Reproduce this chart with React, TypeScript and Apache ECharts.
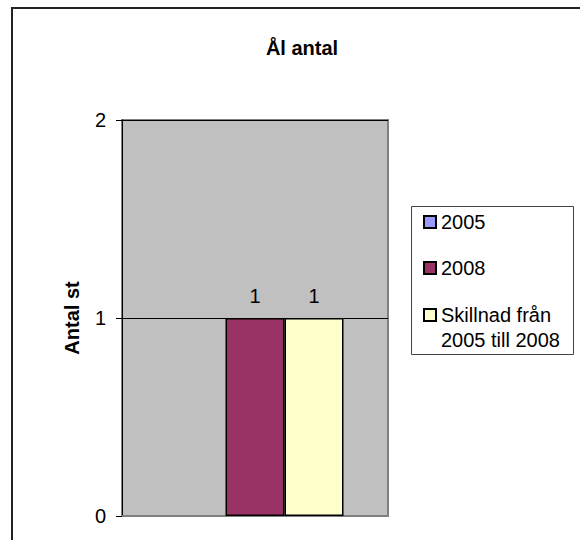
import React, { useEffect, useRef } from "react";
import * as echarts from "echarts";

const categories = [""];
const seriesNames = ["2005", "2008", "Skillnad från\n2005 till 2008"];
const values2005: (number | null)[] = [null];
const values2008: (number | null)[] = [1];
const valuesDiff: (number | null)[] = [1];
const seriesColors = ["#9999FF", "#993366", "#FFFFCC"];
const yMin = 0;
const yMax = 2;
const yInterval = 1;
const titleText = "Ål antal";
const yAxisName = "Antal st";

const FONT = "'Liberation Sans', Arial, sans-serif";

export default function App() {
  const ref = useRef<HTMLDivElement>(null);
  useEffect(() => {
    if (!ref.current) return;
    const chart = echarts.init(ref.current, undefined, { renderer: "svg" });
    const allValues = [values2005, values2008, valuesDiff];
    const legendBase = {
      orient: "vertical",
      left: 423,
      padding: 0,
      itemWidth: 12,
      itemHeight: 12,
      itemGap: 21,
      icon: "rect",
      textStyle: { fontFamily: FONT, fontSize: 20, color: "#000", lineHeight: 25 },
    };
    chart.setOption({
      animation: false,
      backgroundColor: "#ffffff",
      textStyle: { fontFamily: FONT },
      title: {
        text: titleText,
        left: 302,
        top: 38,
        textAlign: "center",
        padding: 0,
        textStyle: { fontFamily: FONT, fontSize: 20, fontWeight: "bold", color: "#000" },
      },
      graphic: [
        {
          type: "polyline",
          shape: { points: [[12, 560], [12, 8], [600, 8]] },
          style: { fill: "none", stroke: "#222", lineWidth: 2 },
          silent: true,
          z: -10,
        },
        {
          type: "rect",
          shape: { x: 411.5, y: 206.5, width: 162, height: 148 },
          style: { fill: "#fff", stroke: "#444", lineWidth: 1 },
          silent: true,
          z: -5,
        },
      ],
      legend: [
        { ...legendBase, top: 209.5, data: [seriesNames[0], seriesNames[1]] },
        {
          ...legendBase,
          top: 277.5,
          data: [seriesNames[2]],
          formatter: (name: string) => "\n" + name,
        },
      ],
      grid: {
        left: 122,
        top: 120,
        right: 192,
        bottom: 24,
        show: true,
        backgroundColor: "#C0C0C0",
        borderColor: "#808080",
        borderWidth: 2,
        containLabel: false,
      },
      xAxis: {
        type: "category",
        data: categories,
        axisLine: { show: true, lineStyle: { color: "#808080", width: 2 } },
        axisTick: { show: false },
        axisLabel: { show: false },
      },
      yAxis: {
        type: "value",
        min: yMin,
        max: yMax,
        interval: yInterval,
        name: yAxisName,
        nameLocation: "middle",
        nameGap: 40,
        nameTextStyle: { fontFamily: FONT, fontSize: 20, fontWeight: "bold", color: "#000" },
        axisLine: { show: true, lineStyle: { color: "#000", width: 1 } },
        axisTick: { show: true, length: 6, lineStyle: { color: "#000" } },
        axisLabel: { fontFamily: FONT, fontSize: 20, color: "#000", margin: 16 },
        splitLine: { show: true, lineStyle: { color: "#000", width: 1 } },
      },
      series: seriesNames.map((name, i) => ({
        name,
        type: "bar",
        data: allValues[i],
        barWidth: 59,
        barGap: "0%",
        itemStyle: { color: seriesColors[i], borderColor: "#000", borderWidth: 1.5 },
        label: {
          show: true,
          position: "top",
          distance: 12,
          fontFamily: FONT,
          fontSize: 20,
          color: "#000",
        },
      })),
    });
    return () => chart.dispose();
  }, []);
  return (
    <div
      ref={ref}
      style={{ position: "fixed", left: 0, top: 0, width: 580, height: 540 }}
    />
  );
}
